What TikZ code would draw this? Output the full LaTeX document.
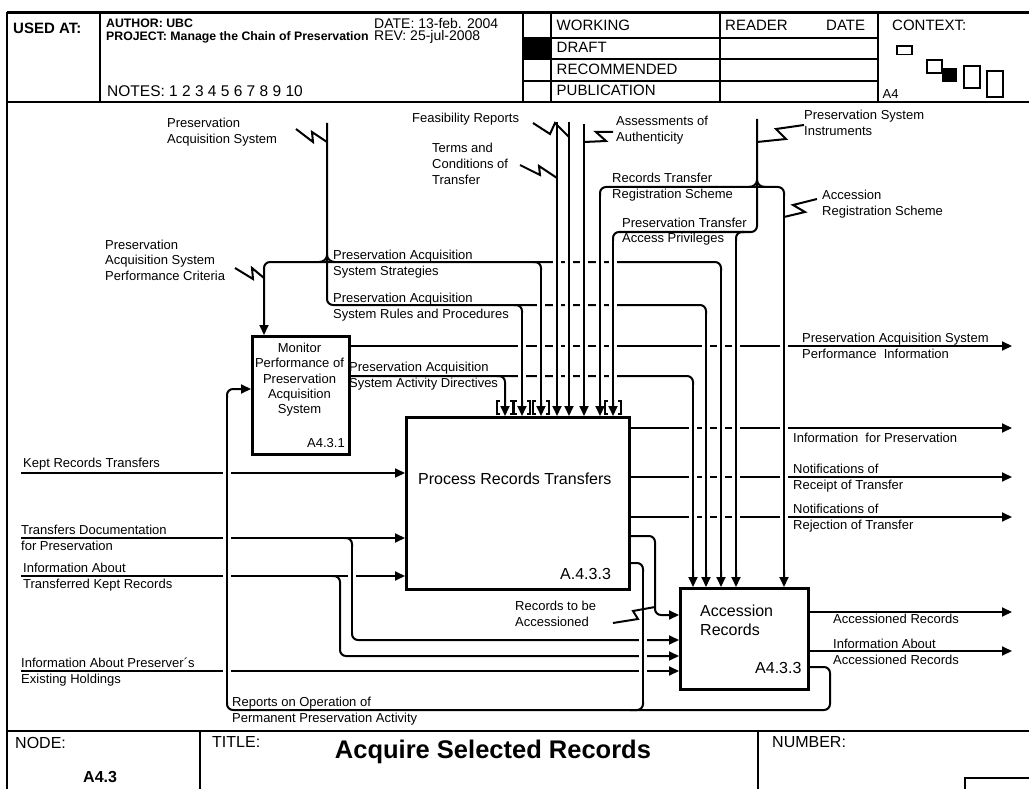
\documentclass[tikz,border=0pt]{standalone}
\usepackage{fontspec}
\setmainfont{Liberation Sans}
\usetikzlibrary{arrows.meta}
\newcommand\ml[1]{\vtop{\halign{##\hfil\cr#1\crcr}}}
\newcommand\mlc[1]{\vtop{\halign{\hfil##\hfil\cr#1\crcr}}}
\begin{document}
\begin{tikzpicture}[x=1pt,y=-1pt,
 frm/.style={line width=2.6pt},
 rowline/.style={line width=2.2pt},
 conn/.style={line width=2pt, rounded corners=6pt},
 arr/.style={conn, -{Triangle[length=10pt,width=9pt]}},
 ovl/.style={line width=2pt, preaction={draw=white, line width=8pt}},
 bolt/.style={line width=2pt, line join=miter, miter limit=6},
 brk/.style={line width=1.6pt},
 lbl/.style={font=\fontsize{13}{16}\selectfont, anchor=base west, inner sep=0pt},
 big/.style={font=\fontsize{16}{19}\selectfont, anchor=base west, inner sep=0pt},
 hdr/.style={font=\fontsize{15}{18}\selectfont, anchor=base west, inner sep=0pt},
 hdrb/.style={font=\fontsize{12.3}{14}\selectfont\bfseries, anchor=base west, inner sep=0pt},
 box/.style={draw, line width=2.6pt, inner sep=0pt, anchor=north west},
 ctx/.style={line width=1.8pt},
]
\useasboundingbox (0,0) rectangle (1029,789);
\fill[white] (0,0) rectangle (1029,789);

% ---------- frame and header ----------
\draw[frm] (7,12.5) -- (1029,12.5);
\draw[frm] (7,12.5) -- (7,789);
\draw[frm] (7,102) -- (1029,102);
\draw[frm] (7,731) -- (1029,731);
\draw[frm] (100,12.5) -- (100,102);
\draw[frm] (523,12.5) -- (523,102);
\draw[frm] (551,12.5) -- (551,102);
\draw[frm] (720,12.5) -- (720,102);
\draw[frm] (878,12.5) -- (878,102);
\draw[rowline] (523,38) -- (878,38);
\draw[rowline] (523,59) -- (878,59);
\draw[rowline] (523,81) -- (878,81);
\fill (523,38) rectangle (551,59);
\draw[ctx] (897,46) rectangle (912,54.5);
\draw[ctx] (927,60) rectangle (942,73);
\fill (942,68) rectangle (957,82.5);
\draw[ctx] (964,66) rectangle (980,88);
\draw[ctx] (987,71) rectangle (1003,97);
\draw[frm] (200,731) -- (200,789);
\draw[frm] (758,731) -- (758,789);
\draw[frm] (965,789) -- (965,778) -- (1029,778);

\node[hdr, font=\fontsize{15}{17}\selectfont\bfseries] (usedat) at (13,33.5) {USED AT:};
\node[hdrb] (author) at (106,28) {AUTHOR: UBC};
\node[hdrb] (project) at (106,40.5) {PROJECT: Manage the Chain of Preservation};
\node[hdr, font=\fontsize{14}{17}\selectfont] (date) at (374,28.5) {DATE: 13-feb. 2004};
\node[hdr, font=\fontsize{14}{17}\selectfont] (rev) at (374,41) {REV: 25-jul-2008};
\node[hdr, font=\fontsize{15.5}{18}\selectfont] (notes) at (107,96.5) {NOTES: 1 2 3 4 5 6 7 8 9 10};
\node[hdr] (working) at (556.5,30.5) {WORKING};
\node[hdr] (draft) at (556.5,52.5) {DRAFT};
\node[hdr] (recom) at (556.5,74.5) {RECOMMENDED};
\node[hdr] (publ) at (556.5,96) {PUBLICATION};
\node[hdr] (reader) at (725,30.5) {READER};
\node[hdr] (rdate) at (826,30.5) {DATE};
\node[hdr] (context) at (892,30.5) {CONTEXT:};
\node[hdr, font=\fontsize{13}{15}\selectfont] (ctxa4) at (882.5,98.5) {A4};

\node[hdr, font=\fontsize{16}{19}\selectfont] (nodelbl) at (15,748) {NODE:};
\node[hdr, font=\fontsize{16}{19}\selectfont\bfseries] (nodenum) at (83,782) {A4.3};
\node[hdr, font=\fontsize{16}{19}\selectfont] (titlelbl) at (212,747) {TITLE:};
\node[font=\fontsize{25.5}{30}\selectfont\bfseries, anchor=base, inner sep=0pt] (title) at (493,758) {Acquire Selected Records};
\node[hdr, font=\fontsize{16}{19}\selectfont] (numlbl) at (772,747) {NUMBER:};

% ---------- activity boxes ----------
\node[box, minimum width=97pt, minimum height=118pt] (mon) at (251,335) {};
\node[box, minimum width=223pt, minimum height=172pt] (prt) at (405,416) {};
\node[box, minimum width=128pt, minimum height=101pt] (acc) at (679,587) {};

% ---------- connectors ----------
\draw[arr] (327,123) -- (327,305) -- (706,305) -- (706,0 |- acc.north);
\draw[arr] (514,305) -- (522,305) -- (522,0 |- prt.north);
\draw[arr] (327,262) -- (264,262) -- (264,0 |- mon.north);
\draw[arr] (327,262) -- (721,262) -- (721,0 |- acc.north);
\draw[arr] (533,262) -- (541,262) -- (541,0 |- prt.north);
\draw[arr] (mon.east |- 0,376) -- (693,376) -- (693,0 |- acc.north);
\draw[arr] (497,376) -- (505,376) -- (505,0 |- prt.north);
\draw[arr] (mon.east |- 0,346) -- (1012,346);
\draw[arr] (557,122) -- (557,0 |- prt.north);
\draw[arr] (569,122) -- (569,0 |- prt.north);
\draw[arr] (584,124) -- (584,0 |- prt.north);
\draw[arr] (757,119) -- (757,232) -- (613,232) -- (613,0 |- prt.north);
\draw[arr] (744,232) -- (736,232) -- (736,0 |- acc.north);
\draw[arr] (757,187) -- (600,187) -- (600,0 |- prt.north);
\draw[arr] (757,187) -- (784,187) -- (784,0 |- acc.north);
\draw[arr] (21,473) -- (prt.west |- 0,473);
\draw[arr] (21,538) -- (prt.west |- 0,538);
\draw[arr] (344,538) -- (352,538) -- (352,640) -- (acc.west |- 0,640);
\draw[arr] (21,576) -- (prt.west |- 0,576);
\draw[arr] (332,576) -- (340,576) -- (340,656) -- (acc.west |- 0,656);
\draw[arr] (21,671) -- (acc.west |- 0,671);
\draw[arr] (prt.east |- 0,536) -- (655,536) -- (655,615) -- (acc.west |- 0,615);
\draw[arr] (prt.east |- 0,563) -- (643,563) -- (643,710) -- (227,710) -- (227,389) -- (mon.west |- 0,389);
\draw[conn] (acc.east |- 0,667) -- (830,667) -- (830,710) -- (630,710);
\draw[arr] (prt.east |- 0,428) -- (1012,428);
\draw[arr] (prt.east |- 0,477) -- (1012,477);
\draw[arr] (prt.east |- 0,517) -- (1012,517);
\draw[arr] (acc.east |- 0,612) -- (1012,612);
\draw[arr] (acc.east |- 0,651) -- (1012,651);

% ---------- crossings ----------
\draw[ovl] (522,313) -- (522,400);
\draw[ovl] (541,270) -- (541,400);
\draw[ovl] (557,192) -- (557,400);
\draw[ovl] (569,192) -- (569,400);
\draw[ovl] (584,192) -- (584,400);
\draw[ovl] (600,196) -- (600,400);
\draw[ovl] (613,241) -- (613,400);
\draw[ovl] (693,385) -- (693,570);
\draw[ovl] (706,314) -- (706,570);
\draw[ovl] (721,271) -- (721,570);
\draw[ovl] (736,241) -- (736,570);
\draw[ovl] (784,196) -- (784,570);
\draw[ovl] (227,398) -- (227,702);
\draw[ovl] (352,547) -- (352,632);
\draw[ovl] (643,572) -- (643,702);

\draw[line width=2pt] (319,262) to[out=0,in=-90] (327,255) to[out=-90,in=180] (335,262);
\draw[line width=2pt] (749,187) to[out=0,in=-90] (757,180) to[out=-90,in=180] (765,187);

\foreach \bx in {505,522,541,613}{
  \draw[brk] (\bx-5,401) -- (\bx-8,401) -- (\bx-8,414) -- (\bx-5,414);
  \draw[brk] (\bx+5,401) -- (\bx+8,401) -- (\bx+8,414) -- (\bx+5,414);
}

% ---------- squiggles ----------
\draw[bolt] (296,129) -- (313,142) -- (312,132) -- (327,142);
\draw[bolt] (235,268) -- (253,279) -- (252,268) -- (264,278);
\draw[bolt] (520,165) -- (540,175) -- (539,166) -- (557,178);
\draw[bolt] (533,123) -- (550,134) -- (555,123) -- (569,137);
\draw[bolt] (584,142) -- (606,141) -- (596,132) -- (613,132);
\draw[bolt] (757,142) -- (786,139) -- (776,129) -- (804,125);
\draw[bolt] (784,217) -- (805,212) -- (793,205) -- (817,199);
\draw[bolt] (613,623) -- (638,619) -- (633,611) -- (655,607);

% ---------- box texts ----------
\node[anchor=base, inner sep=0pt, font=\fontsize{13}{15.5}\selectfont] (mon-t) at (299.5,352) {\mlc{Monitor\cr Performance of\cr Preservation\cr Acquisition\cr System}};
\node[lbl] (mon-id) at (307,447) {A4.3.1};
\node[big] (prt-t) at (418,484) {Process Records Transfers};
\node[big] (prt-id) at (560,579) {A.4.3.3};
\node[big] (acc-t) at (700,616) {\ml{Accession\cr Records}};
\node[big] (acc-id) at (755,673) {A4.3.3};

% ---------- connector labels ----------
\node[lbl] (t1) at (167,127.5) {\ml{Preservation\cr Acquisition System}};
\node[lbl] (t2) at (105,249) {\ml{Preservation\cr Acquisition System\cr Performance Criteria}};
\node[lbl] (t3) at (412,123) {Feasibility Reports};
\node[lbl] (t4) at (432,153) {\ml{Terms and\cr Conditions of\cr Transfer}};
\node[lbl] (t5) at (616,126) {\ml{Assessments of\cr Authenticity}};
\node[lbl] (t6) at (804,120) {\ml{Preservation System\cr Instruments}};
\node[lbl] (t7) at (612,183) {\ml{Records Transfer\cr Registration Scheme}};
\node[lbl] (t8) at (822,200) {\ml{Accession\cr Registration Scheme}};
\node[lbl] (t9) at (622,227) {\ml{Preservation Transfer\cr Access Privileges}};
\node[lbl] (t10) at (333,259) {\ml{Preservation Acquisition\cr System Strategies}};
\node[lbl] (t11) at (333,302.5) {\ml{Preservation Acquisition\cr System Rules and Procedures}};
\node[lbl] (t12) at (349,371) {\ml{Preservation Acquisition\cr System Activity Directives}};
\node[lbl] (t13) at (802,342) {\ml{Preservation Acquisition System\cr Performance\ \ Information}};
\node[lbl] (t14) at (793,442) {Information\ \ for Preservation};
\node[lbl] (t15) at (793,473) {\ml{Notifications of\cr Receipt of Transfer}};
\node[lbl] (t16) at (793,513) {\ml{Notifications of\cr Rejection of Transfer}};
\node[lbl] (t17) at (23,467) {Kept Records Transfers};
\node[lbl] (t18) at (21,534) {\ml{Transfers Documentation\cr for Preservation}};
\node[lbl] (t19) at (23,572.5) {\ml{Information About\cr Transferred Kept Records}};
\node[lbl] (t20) at (21,667) {\ml{Information About Preserver´s\cr Existing Holdings}};
\node[lbl] (t21) at (232,706) {\ml{Reports on Operation of\cr Permanent Preservation Activity}};
\node[lbl] (t22) at (515,610) {\ml{Records to be\cr Accessioned}};
\node[lbl] (t23) at (833,623) {Accessioned Records};
\node[lbl] (t24) at (833,648) {\ml{Information About\cr Accessioned Records}};
\end{tikzpicture}
\end{document}
